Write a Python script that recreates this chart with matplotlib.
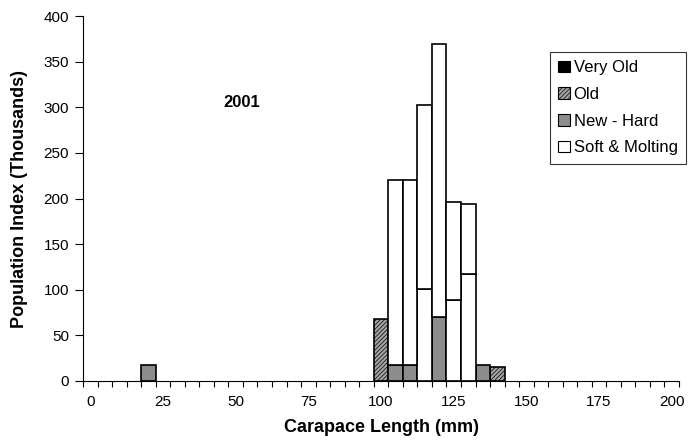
import numpy as np
import matplotlib
matplotlib.use("Agg")
import matplotlib.pyplot as plt
from matplotlib.patches import Patch

plt.rcParams['font.family'] = ['Liberation Sans', 'DejaVu Sans']
plt.rcParams['hatch.color'] = '#666666'
plt.rcParams['hatch.linewidth'] = 0.5

# size classes (mm), 5 mm bins
lengths = np.arange(0, 205, 5)

# values (thousands)
very_old = {}
old = {100: 68, 140: 15}
new_hard = {20: 17, 105: 17, 110: 17, 120: 70, 135: 17}
soft_lower = {115: 101, 125: 89, 130: 117}
soft_upper = {105: 203, 110: 203, 115: 201, 120: 299, 125: 107, 130: 77}

year_label = '2001'


def to_array(d):
    return np.array([d.get(int(x), 0) for x in lengths], dtype=float)


series = [
    ('Very Old', to_array(very_old), dict(facecolor='black')),
    ('Old', to_array(old), dict(facecolor='#a4a4a4', hatch='////////')),
    ('New - Hard', to_array(new_hard), dict(facecolor='#8c8c8c')),
    (None, to_array(soft_lower), dict(facecolor='white')),
    ('Soft & Molting', to_array(soft_upper), dict(facecolor='white')),
]

fig = plt.figure(figsize=(6.89, 4.47), dpi=100)
ax = fig.add_axes([0.1205, 0.1477, 0.865, 0.8163])

bottom = np.zeros(len(lengths))
handles = []
for name, vals, style in series:
    m = vals > 0
    if m.any():
        ax.bar(lengths[m], vals[m], bottom=bottom[m], width=5,
               edgecolor='black', linewidth=1.2, **style)
    bottom += vals
    if name:
        handles.append(Patch(edgecolor='black', linewidth=0.8, label=name, **style))

ax.set_xlim(-2.5, 202.5)
ax.set_ylim(0, 400)
ax.set_yticks(np.arange(0, 401, 50))
ax.tick_params(axis='y', direction='out', length=6, width=0.8, labelsize=11, pad=4)

ax.set_xticks(np.arange(-2.5, 203, 5))
ax.set_xticklabels([])
ax.set_xticks(np.arange(0, 201, 25), minor=True)
ax.set_xticklabels([str(v) for v in range(0, 201, 25)], minor=True)
ax.tick_params(axis='x', which='major', direction='out', length=4, width=0.8)
ax.tick_params(axis='x', which='minor', length=0, labelsize=11, pad=10)

ax.spines['top'].set_visible(False)
ax.spines['right'].set_visible(False)
ax.spines['left'].set_linewidth(0.8)
ax.spines['bottom'].set_linewidth(0.8)

ax.set_xlabel('Carapace Length (mm)', fontsize=13, fontweight='bold', labelpad=7)
ax.set_ylabel('Population Index (Thousands)', fontsize=13, fontweight='bold', labelpad=11)

ax.text(52, 305, year_label, fontsize=12, fontweight='bold', ha='center', va='center')

leg = ax.legend(handles=handles, loc='upper right', bbox_to_anchor=(686 / 689, 1 - 52 / 447),
                bbox_transform=fig.transFigure,
                fontsize=12, frameon=True, fancybox=False, edgecolor='black',
                handlelength=0.7, handleheight=0.7, handletextpad=0.25,
                labelspacing=0.7, borderpad=0.5, borderaxespad=0)
leg.get_frame().set_linewidth(0.8)

fig.savefig('out.png', dpi=100)
